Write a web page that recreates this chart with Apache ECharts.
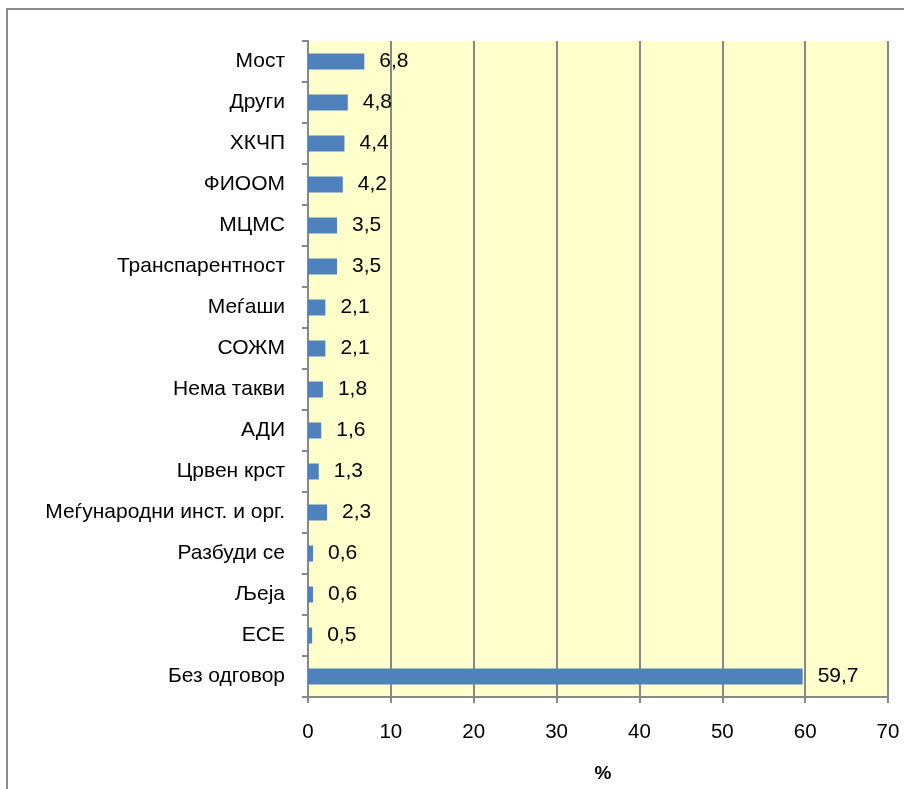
<!DOCTYPE html>
<html><head><meta charset="utf-8">
<script src="https://cdn.jsdelivr.net/npm/echarts@6/dist/echarts.min.js"></script>
<style>html,body{margin:0;padding:0;background:#fff}#c{width:904px;height:789px}</style>
</head><body><div id="c"></div>
<script>
const categories = ['Мост','Други','ХКЧП','ФИООМ','МЦМС','Транспарентност','Меѓаши','СОЖМ','Нема такви','АДИ','Црвен крст','Меѓународни инст. и орг.','Разбуди се','Љеја','ЕСЕ','Без одговор'];
const values = [6.8,4.8,4.4,4.2,3.5,3.5,2.1,2.1,1.8,1.6,1.3,2.3,0.6,0.6,0.5,59.7];
const xTicks = [0,10,20,30,40,50,60,70];
const font = 'Liberation Sans, Arial, sans-serif';
const chart = echarts.init(document.getElementById('c'), null, {renderer:'canvas'});
chart.setOption({
  animation:false,
  graphic:[{type:'rect',shape:{x:7,y:9,width:920,height:800},style:{fill:'none',stroke:'#8c8c8c',lineWidth:2},z:-10}],
  grid:{left:308,right:16,top:41,bottom:92,show:true,backgroundColor:'#FFFFCC',borderWidth:0},
  xAxis:{type:'value',min:xTicks[0],max:xTicks[xTicks.length-1],interval:10,
    name:'%',nameLocation:'middle',nameGap:67,nameTextStyle:{fontFamily:font,fontSize:19,fontWeight:'bold',color:'#000',padding:[0,0,0,10]},
    axisLine:{show:true,lineStyle:{color:'#888',width:2}},
    axisTick:{show:true,length:6,lineStyle:{color:'#888',width:2}},
    axisLabel:{fontFamily:font,fontSize:20.5,color:'#000',margin:25,formatter:v=>String(v)},
    splitLine:{show:true,lineStyle:{color:'#888',width:2}}},
  yAxis:{type:'category',inverse:true,data:categories,
    axisLine:{show:true,lineStyle:{color:'#888',width:2}},
    axisTick:{show:true,length:6,lineStyle:{color:'#888',width:2}},
    axisLabel:{fontFamily:font,fontSize:21,color:'#000',margin:23}},
  series:[{type:'bar',data:values,barWidth:16,itemStyle:{color:'#4F81BD'},
    label:{show:true,position:'right',distance:15,fontFamily:font,fontSize:21,color:'#000',
      formatter:p=>String(p.value).replace('.',',')}}]
});
</script></body></html>
